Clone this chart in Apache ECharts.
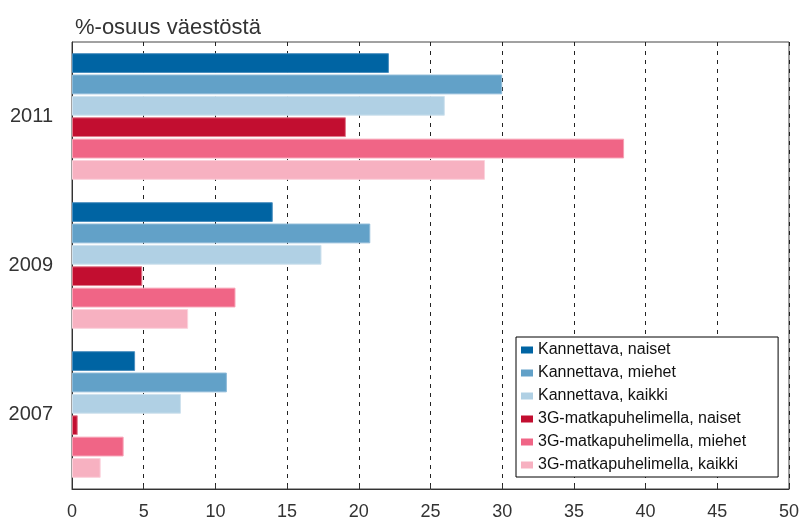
<!DOCTYPE html>
<html>
<head>
<meta charset="utf-8">
<script src="https://cdn.jsdelivr.net/npm/echarts@6/dist/echarts.min.js"></script>
<style>
  html, body { margin: 0; padding: 0; background: #fff; }
  #chart { width: 802px; height: 521px; }
</style>
</head>
<body>
<div id="chart"></div>
<script>
// vuodet ylhäältä alas
const years = ['2011', '2009', '2007']
const seriesNames = [
  'Kannettava, naiset',
  'Kannettava, miehet',
  'Kannettava, kaikki',
  '3G-matkapuhelimella, naiset',
  '3G-matkapuhelimella, miehet',
  '3G-matkapuhelimella, kaikki'
]
const kannettavaNaiset = [22.1, 14.0, 4.4]
const kannettavaMiehet = [30.0, 20.8, 10.8]
const kannettavaKaikki = [26.0, 17.4, 7.6]
const g3Naiset = [19.1, 4.9, 0.4]
const g3Miehet = [38.5, 11.4, 3.6]
const g3Kaikki = [28.8, 8.1, 2.0]
const xTicks = [0, 5, 10, 15, 20, 25, 30, 35, 40, 45, 50]

const values = [kannettavaNaiset, kannettavaMiehet, kannettavaKaikki, g3Naiset, g3Miehet, g3Kaikki]
const colors = ['#0064a3', '#62a1c8', '#b0d0e4', '#c20e30', '#f06586', '#f7b1c1']
const borders = ['#4a8fbf', '#8dbad8', '#cfe2ee', '#e07a8c', '#f7a0b4', '#fbd2dc']

const chart = echarts.init(document.getElementById('chart'))

chart.setOption({
  animation: false,
  title: {
    text: '%-osuus väestöstä',
    left: 70,
    top: 12,
    textStyle: { fontFamily: 'Liberation Sans', fontSize: 22, fontWeight: 'normal', color: '#333' }
  },
  legend: {
    orient: 'vertical',
    left: 516,
    top: 337,
    padding: [5, 32, 4, 5],
    itemGap: 7,
    itemWidth: 12,
    itemHeight: 7,
    itemTextGap: 4,
    backgroundColor: '#fff',
    borderColor: '#000',
    borderWidth: 1,
    borderRadius: 0,
    icon: 'rect',
    itemStyle: { borderWidth: 0 },
    data: seriesNames,
    textStyle: { fontFamily: 'Liberation Sans', fontSize: 16, color: '#111' }
  },
  grid: {
    left: 72,
    right: 10,
    top: 42,
    bottom: 31,
    show: true,
    borderColor: '#444',
    borderWidth: 1
  },
  xAxis: {
    type: 'value',
    min: 0,
    max: 50,
    interval: 5,
    axisLine: { show: true, lineStyle: { color: '#333' } },
    axisTick: { show: true, inside: true, length: 4, lineStyle: { color: '#333' } },
    axisLabel: {
      margin: 14,
      fontFamily: 'Liberation Sans',
      fontSize: 18,
      color: '#333',
      formatter: function (v) { return xTicks.indexOf(v) >= 0 ? String(v) : '' }
    },
    splitLine: { show: true, lineStyle: { color: '#222', type: [4, 5], width: 1 } }
  },
  yAxis: {
    type: 'category',
    inverse: true,
    data: years,
    axisLine: { show: true, lineStyle: { color: '#333' } },
    axisTick: { show: false },
    axisLabel: { margin: 19, fontFamily: 'Liberation Sans', fontSize: 20, color: '#333' }
  },
  series: seriesNames.map(function (name, i) {
    return {
      name: name,
      type: 'bar',
      data: values[i],
      barCategoryGap: '15%',
      barGap: '8%',
      itemStyle: { color: colors[i], borderColor: borders[i], borderWidth: 1 }
    }
  })
})
</script>
</body>
</html>
